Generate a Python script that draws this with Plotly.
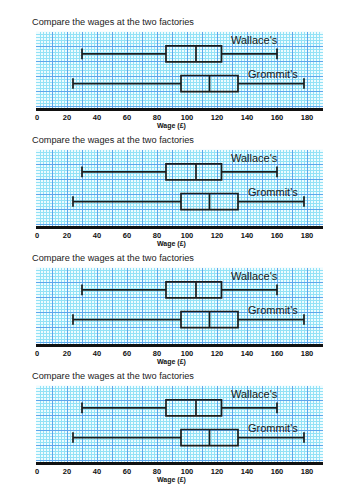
import plotly.graph_objects as go

# ---- data ----
factories = ["Wallace's", "Grommit's"]
mins = [30, 24]
q1s = [86, 96]
medians = [106, 115]
q3s = [123, 134]
maxs = [160, 178]
box_pos = [35.1, 15.3]          # vertical positions inside each panel
label_x = [145.3, 157.0]
label_y = [44.2, 21.6]
tick_values = list(range(0, 181, 10))
tick_text = [str(v) if v % 20 == 0 else "" for v in tick_values]
title_text = "Compare the wages at the two factories"
xaxis_title = "Wage (£)"

W, H = 353, 500
n_panels = 4
spacing = 118.0
grid_top0 = 31.5
grid_h = 76.0

fig = go.Figure()
annotations = []

def fx(px):
    return px / W

def fy(py):
    return 1 - py / H

for i in range(n_panels):
    off = i * spacing
    k = "" if i == 0 else str(i + 1)
    xa, ya = "x" + k, "y" + k
    for j, name in enumerate(factories):
        fig.add_trace(go.Box(
            orientation="h",
            y=[box_pos[j]],
            q1=[q1s[j]], median=[medians[j]], q3=[q3s[j]],
            lowerfence=[mins[j]], upperfence=[maxs[j]],
            width=10.7, whiskerwidth=0.66,
            line=dict(color="#1c1c1c", width=1.7),
            fillcolor="rgba(0,0,0,0)",
            boxpoints=False, hoverinfo="skip", showlegend=False,
            xaxis=xa, yaxis=ya, name=name,
        ))
        annotations.append(dict(
            x=label_x[j], y=label_y[j], xref=xa, yref=ya,
            text=name, showarrow=False,
            font=dict(family="Liberation Sans, Arial", size=11, color="#1a1a1a"),
            xanchor="center", yanchor="middle",
        ))
    top = grid_top0 + off
    bottom = top + grid_h
    xkey = "xaxis" + k
    ykey = "yaxis" + k
    fig.update_layout(**{
        xkey: dict(
            domain=[fx(36), fx(323)], range=[-0.67, 190.67],
            tickmode="array", tickvals=tick_values, ticktext=tick_text,
            showgrid=True, gridcolor="#5ea6ec", gridwidth=1,
            minor=dict(dtick=2, tick0=0, showgrid=True, gridcolor="#93e2f6", gridwidth=1),
            showline=True, linecolor="#111111", linewidth=3,
            zeroline=False, ticks="",
            tickfont=dict(family="Liberation Sans, Arial", size=7.5, color="#111111", weight="bold"),
            anchor=ya, fixedrange=True,
        ),
        ykey: dict(
            domain=[fy(bottom), fy(top)], range=[-0.67, 50],
            tickmode="array", tickvals=[0, 10, 20, 30, 40, 50],
            showticklabels=False, showgrid=True, gridcolor="#5ea6ec", gridwidth=1,
            minor=dict(dtick=2, tick0=0, showgrid=True, gridcolor="#93e2f6", gridwidth=1),
            zeroline=False, showline=False, ticks="",
            anchor=xa, fixedrange=True,
        ),
    })
    annotations.append(dict(
        x=fx(30), y=fy(21.7 + off), xref="paper", yref="paper",
        text=title_text, showarrow=False, xanchor="left", yanchor="middle",
        font=dict(family="Liberation Sans, Arial", size=9.2, color="#222222"),
    ))
    annotations.append(dict(
        x=fx(171.7), y=fy(126 + off), xref="paper", yref="paper",
        text=xaxis_title, showarrow=False, xanchor="center", yanchor="middle",
        font=dict(family="Liberation Sans, Arial", size=7, color="#111111", weight="bold"),
    ))

fig.update_layout(
    width=W, height=H, margin=dict(l=0, r=0, t=0, b=0),
    paper_bgcolor="white", plot_bgcolor="#eefcff",
    annotations=annotations, showlegend=False,
)

fig.write_html("out.html", config={"displayModeBar": False})
